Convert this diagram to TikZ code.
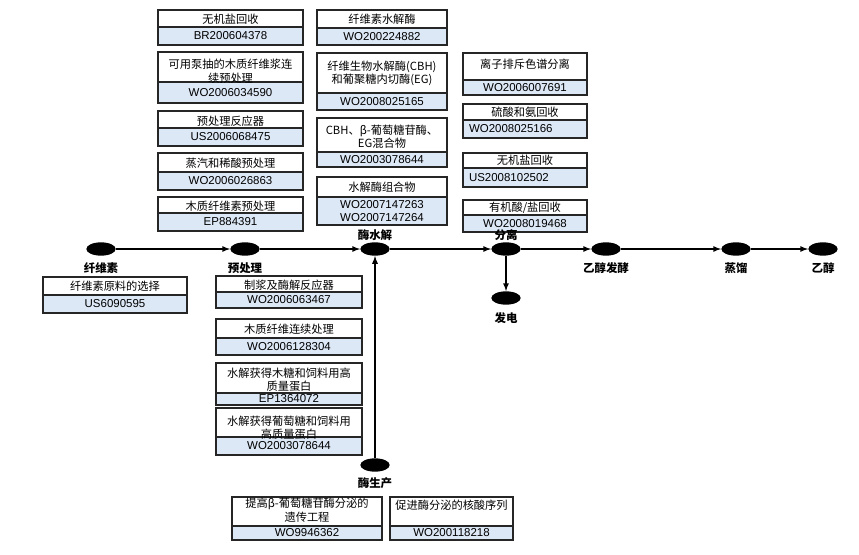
\documentclass[tikz,border=0pt]{standalone}
\usepackage{fontspec}
\setmainfont{Liberation Sans}
\newfontfamily\cjk{Noto Sans CJK SC}
\usetikzlibrary{positioning,shapes.geometric,arrows}

\definecolor{numblue}{RGB}{221,232,246}

\tikzset{
  boxline/.style={draw=black!85, line width=0.9pt},
  ttl/.style={align=center, inner sep=0pt, font=\cjk\fontsize{9.6}{11.5}\selectfont},
  num/.style={align=center, inner sep=0pt, font=\fontsize{9.8}{10.6}\selectfont},
  stage/.style={ellipse, fill=black, minimum width=0.88cm, minimum height=0.4cm, inner sep=0pt},
  lbl/.style={inner sep=1pt, font=\cjk\bfseries\fontsize{9.8}{11}\selectfont},
  flow/.style={-latex, line width=1.3pt}
}

% patent box: name, x left, x right, y top, y divider, y bottom, title y, title, number
\newcommand{\patbox}[9]{%
  \draw[boxline, fill=white] (#2,#4) rectangle (#3,#5);
  \draw[boxline, fill=numblue] (#2,#5) rectangle (#3,#6);
  \node[ttl] (#1t) at ({(#2+#3)/2},#7) {#8};
  \node[num] (#1n) at ({(#2+#3)/2},{(#5+#6)/2}) {#9};
}

\begin{document}
\begin{tikzpicture}[x=0.03cm, y=-0.03cm]
  \useasboundingbox (0,0) rectangle (859,554);

  % pretreatment patents
  \patbox{a1}{158}{303}{10}{27}{45}{19}{无机盐回收}{BR200604378}
  \patbox{a2}{158}{303}{52}{82}{103}{71}{可用泵抽的木质纤维浆连\\续预处理}{WO2006034590}
  \patbox{a3}{158}{303}{111}{128}{146}{121}{预处理反应器}{US2006068475}
  \patbox{a4}{158}{303}{153}{172}{190}{163}{蒸汽和稀酸预处理}{WO2006026863}
  \patbox{a5}{158}{303}{197}{213}{231}{206}{木质纤维素预处理}{EP884391}

  % hydrolysis patents
  \patbox{b1}{317}{447}{10}{28}{45}{19}{纤维素水解酶}{WO200224882}
  \patbox{b2}{317}{447}{53}{93}{110}{73.5}{纤维生物水解酶(CBH)\\和葡聚糖内切酶(EG)}{WO2008025165}
  \patbox{b3}{317}{447}{118}{152}{167}{136.5}{CBH、β-葡萄糖苷酶、\\EG混合物}{WO2003078644}
  \patbox{b4}{317}{447}{177}{197}{225}{187}{水解酶组合物}{WO2007147263\\WO2007147264}

  % separation patents
  \patbox{c1}{463}{587}{53}{80}{95}{64}{离子排斥色谱分离}{WO2006007691}
  \patbox{c2}{463}{587}{104}{120}{138}{112}{硫酸和氨回收}{\makebox[3.36cm][l]{WO2008025166}}
  \patbox{c3}{463}{587}{153}{168}{187}{160}{无机盐回收}{\makebox[3.36cm][l]{US2008102502}}
  \patbox{c4}{463}{587}{200}{215}{232}{208}{有机酸/盐回收}{WO2008019468}

  % feedstock
  \patbox{d1}{43}{187}{277}{295}{313}{286}{纤维素原料的选择}{US6090595}

  % pretreatment / hydrolysis process
  \patbox{e1}{216}{362}{276}{292}{308}{285}{制浆及酶解反应器}{WO2006063467}
  \patbox{e2}{216}{362}{319}{338}{355}{329}{木质纤维连续处理}{WO2006128304}
  \patbox{e3}{216}{362}{363}{393}{405}{380}{水解获得木糖和饲料用高\\质量蛋白}{EP1364072}
  \patbox{e4}{216}{362}{408}{437}{455}{428}{水解获得葡萄糖和饲料用\\高质量蛋白}{WO2003078644}

  % enzyme production
  \patbox{f1}{232}{382}{497}{526}{540}{510}{提高β-葡萄糖苷酶分泌的\\遗传工程}{WO9946362}
  \patbox{f2}{390}{513}{497}{526}{540}{505}{促进酶分泌的核酸序列}{WO200118218}

  % process chain
  \node[stage] (n1) at (101,249) {};
  \node[stage] (n2) at (245,249) {};
  \node[stage] (n3) at (375,249) {};
  \node[stage] (n4) at (506,249) {};
  \node[stage] (n5) at (606,249) {};
  \node[stage] (n6) at (736,249) {};
  \node[stage] (n7) at (823,249) {};
  \node[stage] (n8) at (506,298) {};
  \node[stage] (n9) at (375,465) {};

  \node[lbl, below=0.15cm of n1] (l1) {纤维素};
  \node[lbl, below=0.15cm of n2] (l2) {预处理};
  \node[lbl, above=0pt of n3] (l3) {酶水解};
  \node[lbl, above=0pt of n4] (l4) {分离};
  \node[lbl, below=0.15cm of n5] (l5) {乙醇发酵};
  \node[lbl, below=0.15cm of n6] (l6) {蒸馏};
  \node[lbl, below=0.15cm of n7] (l7) {乙醇};
  \node[lbl, below=0.18cm of n8] (l8) {发电};
  \node[lbl, below=0.12cm of n9] (l9) {酶生产};

  \draw[flow] (n1) -- (n2);
  \draw[flow] (n2) -- (n3);
  \draw[flow] (n3) -- (n4);
  \draw[flow] (n4) -- (n5);
  \draw[flow] (n5) -- (n6);
  \draw[flow] (n6) -- (n7);
  \draw[flow] (n4) -- (n8);
  \draw[flow] (n9) -- (n3);
\end{tikzpicture}
\end{document}
